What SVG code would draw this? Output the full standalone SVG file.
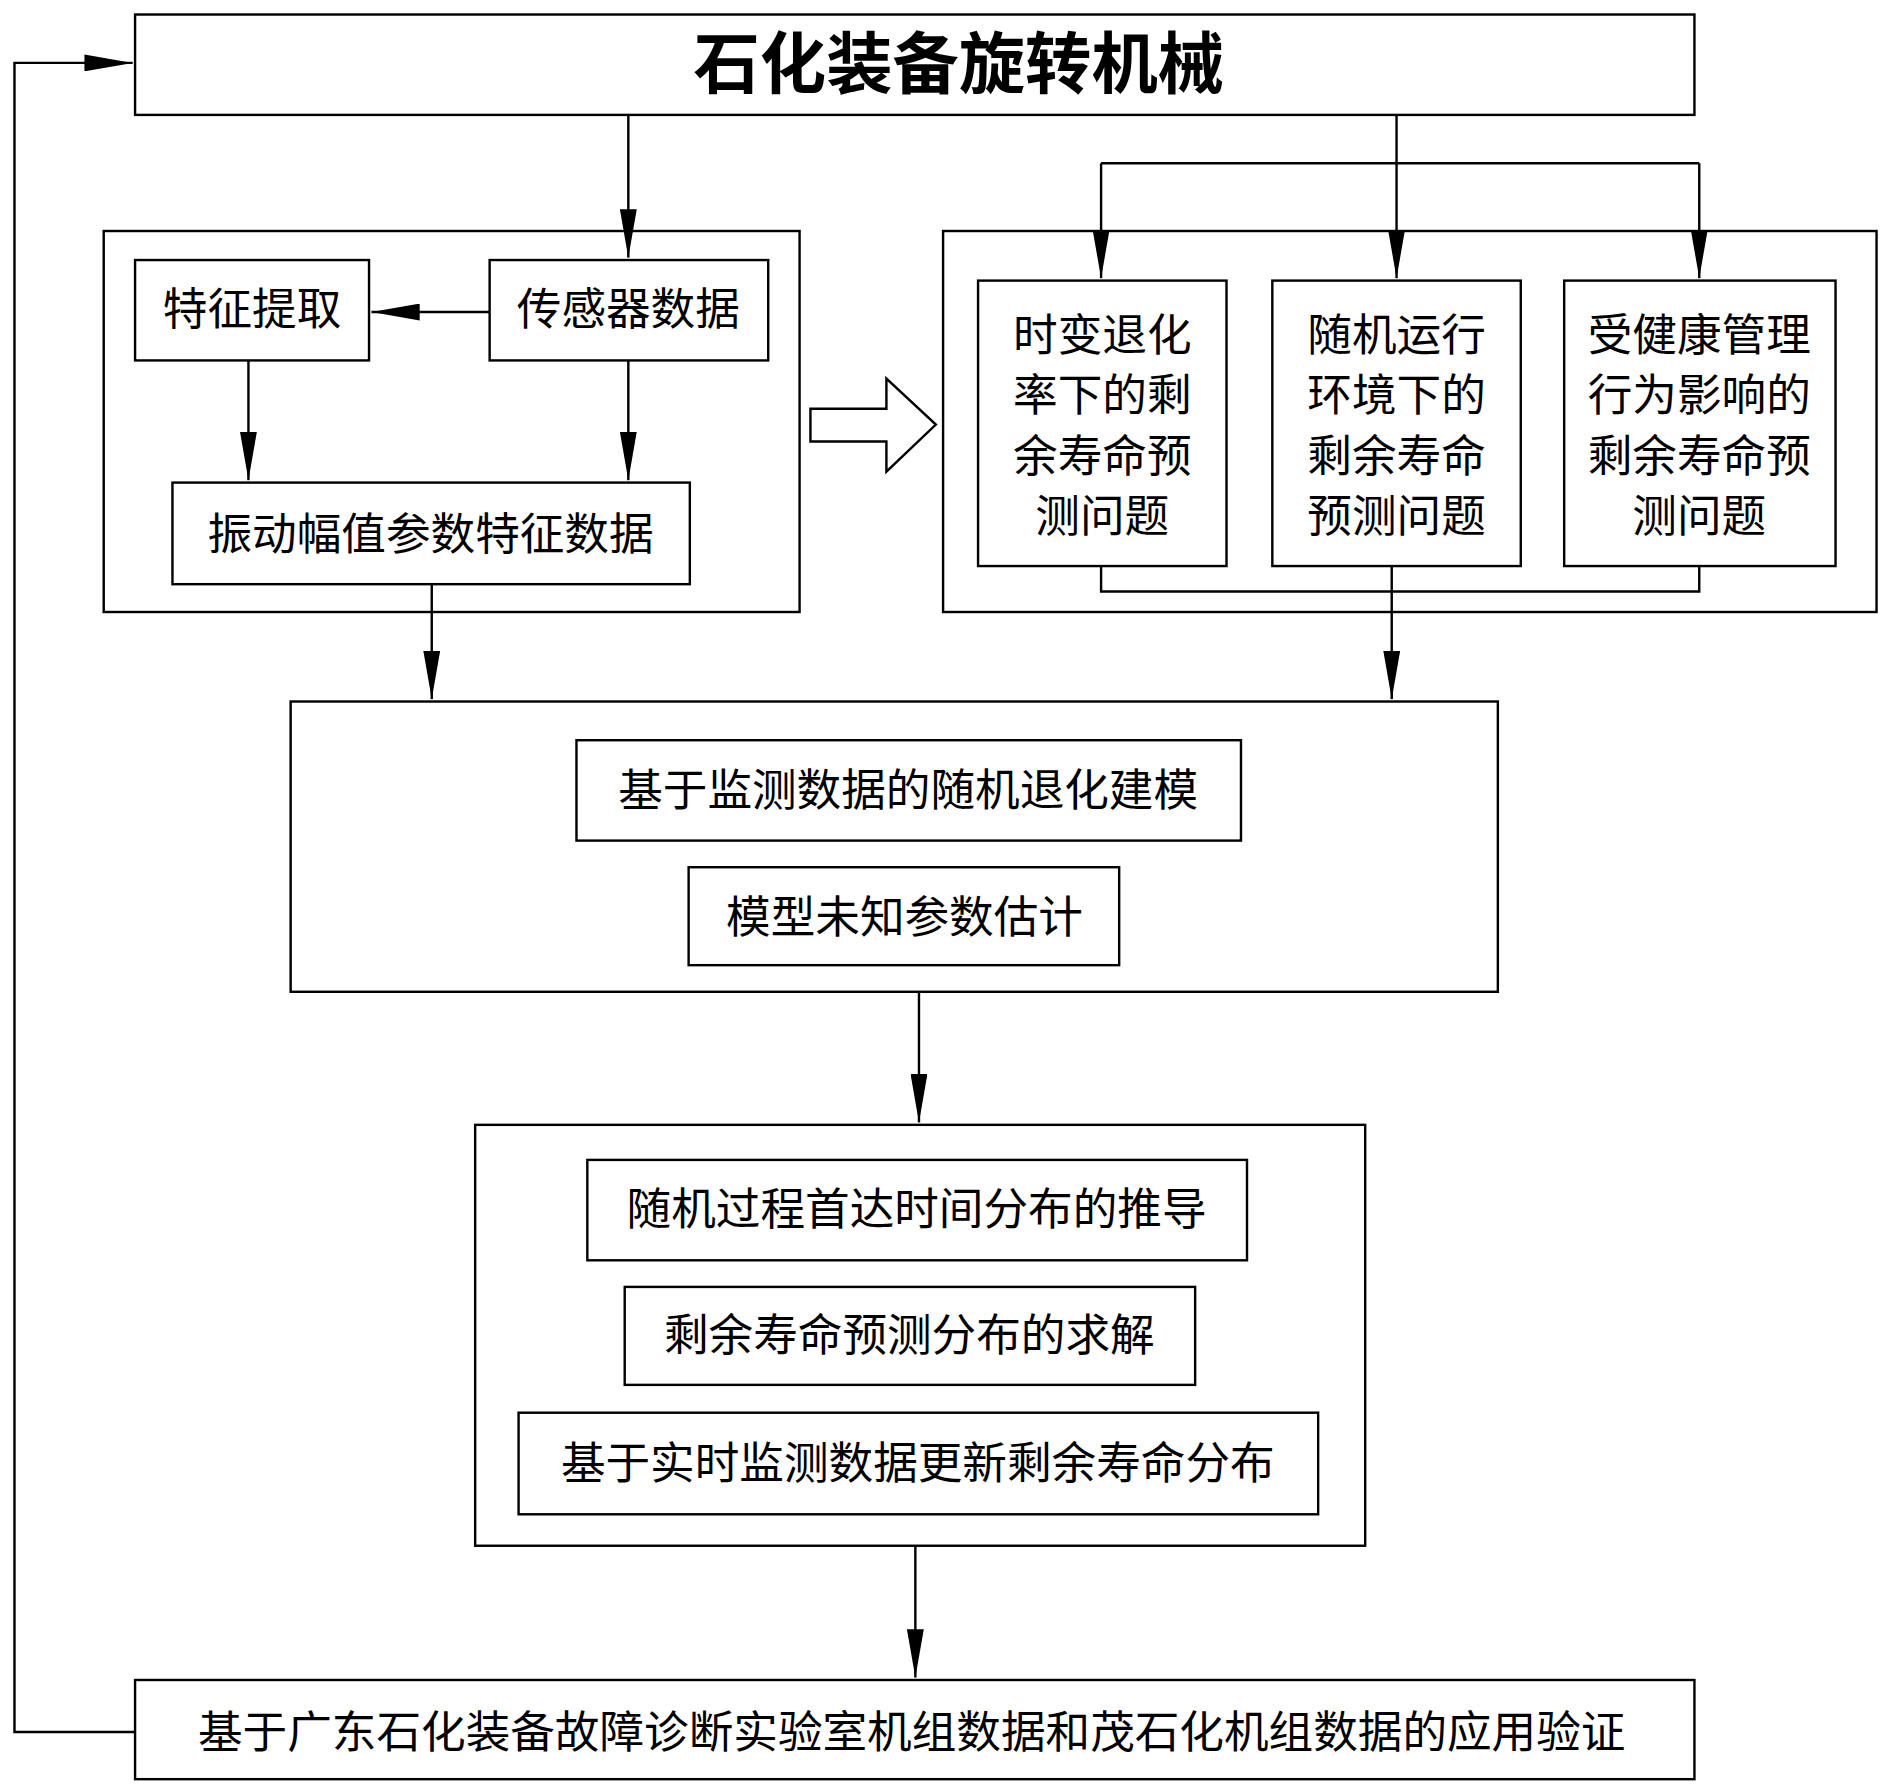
<svg xmlns="http://www.w3.org/2000/svg" width="1891" height="1790" viewBox="0 0 1891 1790">
<style>
.b{fill:#fff;stroke:#000;stroke-width:2}
.c{fill:none;stroke:#000;stroke-width:2}
text{font-family:"Noto Sans CJK SC","Noto Sans CJK JP",sans-serif;font-size:37px;fill:#000;text-anchor:middle}
</style>
<defs><marker id="a" markerWidth="40" markerHeight="14" refX="40" refY="7" orient="auto" markerUnits="userSpaceOnUse"><path d="M0,0 L40,7 L0,14 Z" fill="#000"/></marker></defs>
<rect width="1891" height="1790" fill="#fff"/>
<g transform="scale(1.206,1.2095)">
<g id="n-top"><rect class="b" x="112" y="12" width="1293" height="83"/><text x="795" y="73" style="font-size:55px;font-weight:bold">石化装备旋转机械</text></g>
<g id="n-left"><rect class="b" x="86" y="191" width="577" height="315"/></g>
<g id="n-feat"><rect class="b" x="112" y="215" width="194" height="83"/><text x="209" y="269">特征提取</text></g>
<g id="n-sensor"><rect class="b" x="406" y="215" width="231" height="83"/><text x="521" y="269">传感器数据</text></g>
<g id="n-vib"><rect class="b" x="143" y="399" width="429" height="84"/><text x="357" y="455">振动幅值参数特征数据</text></g>
<g id="n-right"><rect class="b" x="782" y="191" width="774" height="315"/></g>
<g id="n-r1"><rect class="b" x="811" y="232" width="206" height="236"/><text x="914" y="290">时变退化</text><text x="914" y="340">率下的剩</text><text x="914" y="390">余寿命预</text><text x="914" y="440">测问题</text></g>
<g id="n-r2"><rect class="b" x="1055" y="232" width="206" height="236"/><text x="1158" y="290">随机运行</text><text x="1158" y="340">环境下的</text><text x="1158" y="390">剩余寿命</text><text x="1158" y="440">预测问题</text></g>
<g id="n-r3"><rect class="b" x="1297" y="232" width="225" height="236"/><text x="1409" y="290">受健康管理</text><text x="1409" y="340">行为影响的</text><text x="1409" y="390">剩余寿命预</text><text x="1409" y="440">测问题</text></g>
<g id="n-mid"><rect class="b" x="241" y="580" width="1001" height="240"/></g>
<g id="n-m1"><rect class="b" x="478" y="612" width="551" height="83"/><text x="753" y="666">基于监测数据的随机退化建模</text></g>
<g id="n-m2"><rect class="b" x="571" y="717" width="357" height="81"/><text x="750" y="771">模型未知参数估计</text></g>
<g id="n-low"><rect class="b" x="394" y="930" width="738" height="348"/></g>
<g id="n-l1"><rect class="b" x="487" y="959" width="547" height="83"/><text x="760" y="1013">随机过程首达时间分布的推导</text></g>
<g id="n-l2"><rect class="b" x="518" y="1064" width="473" height="81"/><text x="754" y="1117">剩余寿命预测分布的求解</text></g>
<g id="n-l3"><rect class="b" x="430" y="1168" width="663" height="84"/><text x="761" y="1223">基于实时监测数据更新剩余寿命分布</text></g>
<g id="n-bot"><rect class="b" x="112" y="1389" width="1293" height="82"/><text x="756" y="1445">基于广东石化装备故障诊断实验室机组数据和茂石化机组数据的应用验证</text></g>
<g id="arrow-block"><path class="b" d="M672,338 H735 V313 L776,351 L735,390 V365 H672 Z"/></g>
<g id="connectors">
<path class="c" d="M521,95 V213" marker-end="url(#a)"/>
<path class="c" d="M1158,95 V230" marker-end="url(#a)"/>
<path class="c" d="M913,135 H1409"/>
<path class="c" d="M913,135 V230" marker-end="url(#a)"/>
<path class="c" d="M1409,135 V230" marker-end="url(#a)"/>
<path class="c" d="M406,258 H308" marker-end="url(#a)"/>
<path class="c" d="M206,298 V397" marker-end="url(#a)"/>
<path class="c" d="M521,298 V397" marker-end="url(#a)"/>
<path class="c" d="M913,468 V489 H1409 V468"/>
<path class="c" d="M1154,468 V578" marker-end="url(#a)"/>
<path class="c" d="M358,483 V578" marker-end="url(#a)"/>
<path class="c" d="M762,820 V928" marker-end="url(#a)"/>
<path class="c" d="M759,1278 V1387" marker-end="url(#a)"/>
<path class="c" d="M112,1432 H12 V52 H110" marker-end="url(#a)"/>
</g>
</g>
</svg>
